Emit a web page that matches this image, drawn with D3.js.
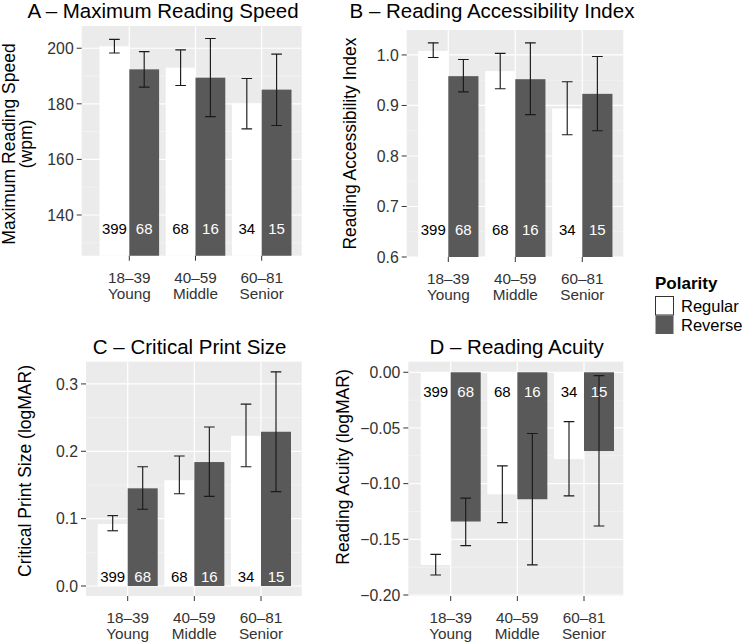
<!DOCTYPE html>
<html>
<head>
<meta charset="utf-8">
<script src="https://cdn.jsdelivr.net/npm/d3@7"></script>
<style>
  html, body { margin: 0; padding: 0; background: #ffffff; }
  svg { display: block; }
  text { font-family: "Liberation Sans", Arial, Helvetica, sans-serif; }
</style>
</head>
<body>
<script>
// ---------------- data ----------------
const ageRanges = ["18–39", "40–59", "60–81"];
const ageNames = ["Young", "Middle", "Senior"];
const polarity = ["Regular", "Reverse"];
const countsRegular = [399, 68, 34];
const countsReverse = [68, 16, 15];

// A – Maximum Reading Speed (wpm)
const mrsRegular = [200.7, 193.0, 180.1];
const mrsRegularLo = [198.3, 186.6, 171.0];
const mrsRegularHi = [203.2, 199.4, 189.1];
const mrsReverse = [192.4, 189.4, 185.1];
const mrsReverseLo = [186.0, 175.4, 172.2];
const mrsReverseHi = [198.8, 203.5, 197.9];
const mrsTicks = [140, 160, 180, 200];

// B – Reading Accessibility Index
const raiRegular = [1.008, 0.968, 0.894];
const raiRegularLo = [0.995, 0.933, 0.842];
const raiRegularHi = [1.024, 1.003, 0.947];
const raiReverse = [0.958, 0.952, 0.923];
const raiReverseLo = [0.927, 0.882, 0.850];
const raiReverseHi = [0.991, 1.024, 0.997];
const raiTicks = [0.6, 0.7, 0.8, 0.9, 1.0];

// C – Critical Print Size (logMAR)
const cpsRegular = [0.092, 0.157, 0.223];
const cpsRegularLo = [0.082, 0.137, 0.177];
const cpsRegularHi = [0.1045, 0.193, 0.270];
const cpsReverse = [0.145, 0.184, 0.229];
const cpsReverseLo = [0.114, 0.133, 0.140];
const cpsReverseHi = [0.177, 0.236, 0.318];
const cpsTicks = [0.0, 0.1, 0.2, 0.3];

// D – Reading Acuity (logMAR)
const raRegular = [-0.173, -0.1096, -0.078];
const raRegularLo = [-0.182, -0.135, -0.111];
const raRegularHi = [-0.1635, -0.084, -0.0443];
const raReverse = [-0.134, -0.114, -0.0707];
const raReverseLo = [-0.1557, -0.173, -0.138];
const raReverseHi = [-0.113, -0.055, -0.003];
const raTicks = [-0.20, -0.15, -0.10, -0.05, 0.00];

// ---------------- layout ----------------
const W = 746, H = 643;
const FONT_TITLE = 20.5, FONT_AXIS_TITLE = 17.5, FONT_TICK = 15.3, FONT_COUNT = 15;
const BG = "#EBEBEB", DARK = "#595959", TICKCOL = "#333333";

const panels = [
  { key: "A", title: "A – Maximum Reading Speed", ytitle: ["Maximum Reading Speed", "(wpm)"],
    reg: mrsRegular, regLo: mrsRegularLo, regHi: mrsRegularHi,
    rev: mrsReverse, revLo: mrsReverseLo, revHi: mrsReverseHi,
    ticks: mrsTicks, fmt: d3.format("d"), ydom: [125.35, 208.0], labelY: 135,
    box: { x0: 81.7, x1: 301.7, y0: 26, y1: 255.7 }, xt: [129.3, 261.7],
    titleX: 163, titleY: 18.3, ytX: [15.2, 31.8], ytY: 144 },
  { key: "B", title: "B – Reading Accessibility Index", ytitle: ["Reading Accessibility Index"],
    reg: raiRegular, regLo: raiRegularLo, regHi: raiRegularHi,
    rev: raiReverse, revLo: raiReverseLo, revHi: raiReverseHi,
    ticks: raiTicks, fmt: d3.format(".1f"), ydom: [0.6, 1.0494], labelY: 0.654,
    box: { x0: 406.7, x1: 623.3, y0: 30, y1: 257 }, xt: [448.3, 582.3],
    titleX: 492, titleY: 18.3, ytX: [355.5], ytY: 143.5 },
  { key: "C", title: "C – Critical Print Size", ytitle: ["Critical Print Size (logMAR)"],
    reg: cpsRegular, regLo: cpsRegularLo, regHi: cpsRegularHi,
    rev: cpsReverse, revLo: cpsReverseLo, revHi: cpsReverseHi,
    ticks: cpsTicks, fmt: d3.format(".1f"), ydom: [-0.01485, 0.333], labelY: 0.0146,
    box: { x0: 86, x1: 301.7, y0: 361.7, y1: 596 }, xt: [127.7, 261],
    titleX: 189.7, titleY: 354, ytX: [30.8], ytY: 471 },
  { key: "D", title: "D – Reading Acuity", ytitle: ["Reading Acuity (logMAR)"],
    reg: raRegular, regLo: raRegularLo, regHi: raRegularHi,
    rev: raReverse, revLo: raReverseLo, revHi: raReverseHi,
    ticks: raTicks, fmt: d3.format(".2f"), ydom: [-0.2009, 0.0095], labelY: -0.0174,
    box: { x0: 408.3, x1: 623.3, y0: 361.7, y1: 596 }, xt: [450.7, 584],
    titleX: 516.7, titleY: 354, ytX: [348.5], ytY: 467 }
];

const svg = d3.select("body").append("svg")
  .attr("width", W).attr("height", H)
  .attr("viewBox", `0 0 ${W} ${H}`);
svg.append("rect").attr("width", W).attr("height", H).attr("fill", "#ffffff");

const BAR_W = 0.45, CAP_HALF = 0.08;

panels.forEach(p => {
  const b = p.box;
  const x = d3.scaleLinear().domain([1, 3]).range(p.xt);
  const y = d3.scaleLinear().domain(p.ydom).range([b.y1, b.y0]);
  const g = svg.append("g").attr("class", "panel-" + p.key);

  const clipId = "clip-" + p.key;
  svg.append("defs").append("clipPath").attr("id", clipId)
    .append("rect").attr("x", b.x0).attr("y", b.y0)
    .attr("width", b.x1 - b.x0).attr("height", b.y1 - b.y0);

  // panel background
  g.append("rect").attr("x", b.x0).attr("y", b.y0)
    .attr("width", b.x1 - b.x0).attr("height", b.y1 - b.y0).attr("fill", BG);

  // minor gridlines
  const step = p.ticks[1] - p.ticks[0];
  const minor = [];
  for (let k = -1; k < p.ticks.length; k++) {
    const v = p.ticks[0] + (k + 0.5) * step;
    if (v > p.ydom[0] && v < p.ydom[1]) minor.push(v);
  }
  g.selectAll("line.minor").data(minor).enter().append("line")
    .attr("x1", b.x0).attr("x2", b.x1)
    .attr("y1", d => y(d)).attr("y2", d => y(d))
    .attr("stroke", "#F6F6F6").attr("stroke-width", 0.6);

  // major horizontal gridlines
  g.selectAll("line.major").data(p.ticks).enter().append("line")
    .attr("x1", b.x0).attr("x2", b.x1)
    .attr("y1", d => y(d)).attr("y2", d => y(d))
    .attr("stroke", "#ffffff").attr("stroke-width", 1.2);
  // major vertical gridlines
  g.selectAll("line.vmajor").data([1, 2, 3]).enter().append("line")
    .attr("x1", d => x(d)).attr("x2", d => x(d))
    .attr("y1", b.y0).attr("y2", b.y1)
    .attr("stroke", "#ffffff").attr("stroke-width", 1.2);

  // bars
  const rows = [];
  ageRanges.forEach((a, i) => {
    rows.push({ c: i + 1, side: -1, v: p.reg[i], lo: p.regLo[i], hi: p.regHi[i], n: countsRegular[i], fill: "#ffffff", tc: "#000000" });
    rows.push({ c: i + 1, side: 1, v: p.rev[i], lo: p.revLo[i], hi: p.revHi[i], n: countsReverse[i], fill: DARK, tc: "#ffffff" });
  });
  const cg = g.append("g").attr("clip-path", `url(#${clipId})`);
  cg.selectAll("rect.bar").data(rows).enter().append("rect")
    .attr("x", d => d.side < 0 ? x(d.c - BAR_W) : x(d.c))
    .attr("width", d => x(1 + BAR_W) - x(1))
    .attr("y", d => Math.min(y(0), y(d.v)))
    .attr("height", d => Math.abs(y(0) - y(d.v)))
    .attr("fill", d => d.fill);

  // error bars
  const center = d => x(d.c + d.side * BAR_W / 2);
  const eg = cg.append("g").attr("stroke", "#1a1a1a").attr("stroke-width", 1.15).attr("fill", "none");
  rows.forEach(d => {
    const cx = center(d), hw = x(1 + CAP_HALF) - x(1);
    eg.append("line").attr("x1", cx).attr("x2", cx).attr("y1", y(d.lo)).attr("y2", y(d.hi));
    eg.append("line").attr("x1", cx - hw).attr("x2", cx + hw).attr("y1", y(d.lo)).attr("y2", y(d.lo));
    eg.append("line").attr("x1", cx - hw).attr("x2", cx + hw).attr("y1", y(d.hi)).attr("y2", y(d.hi));
  });

  // count labels
  cg.selectAll("text.count").data(rows).enter().append("text")
    .attr("x", d => center(d)).attr("y", y(p.labelY)).attr("dy", "0.36em")
    .attr("text-anchor", "middle").attr("font-size", FONT_COUNT)
    .attr("fill", d => d.tc).text(d => d.n);

  // y axis ticks and labels
  const ya = g.append("g");
  p.ticks.forEach(t => {
    ya.append("line").attr("x1", b.x0 - 5).attr("x2", b.x0).attr("y1", y(t)).attr("y2", y(t))
      .attr("stroke", TICKCOL).attr("stroke-width", 1);
    ya.append("text").attr("x", b.x0 - 8).attr("y", y(t)).attr("dy", "0.36em")
      .attr("text-anchor", "end").attr("font-size", 15.8).attr("fill", TICKCOL)
      .text(p.fmt(t));
  });

  // x axis ticks and labels
  const xa = g.append("g");
  ageRanges.forEach((a, i) => {
    const cx = x(i + 1);
    xa.append("line").attr("x1", cx).attr("x2", cx).attr("y1", b.y1).attr("y2", b.y1 + 5)
      .attr("stroke", TICKCOL).attr("stroke-width", 1);
    xa.append("text").attr("x", cx).attr("y", b.y1 + 26.8)
      .attr("text-anchor", "middle").attr("font-size", FONT_TICK).attr("fill", TICKCOL).text(a);
    xa.append("text").attr("x", cx).attr("y", b.y1 + 43.2)
      .attr("text-anchor", "middle").attr("font-size", FONT_TICK).attr("fill", TICKCOL).text(ageNames[i]);
  });

  // panel title
  g.append("text").attr("x", p.titleX).attr("y", p.titleY)
    .attr("text-anchor", "middle").attr("font-size", FONT_TITLE).attr("fill", "#000")
    .text(p.title);

  // y axis title
  p.ytitle.forEach((line, k) => {
    g.append("text")
      .attr("transform", `translate(${p.ytX[k]},${p.ytY}) rotate(-90)`)
      .attr("text-anchor", "middle").attr("font-size", FONT_AXIS_TITLE).attr("fill", "#000")
      .text(line);
  });
});

// ---------------- legend ----------------
const lg = svg.append("g").attr("class", "legend");
lg.append("text").attr("x", 655).attr("y", 288.5)
  .attr("font-size", 17).attr("font-weight", "bold").attr("fill", "#000").text("Polarity");
const keyFills = ["#ffffff", DARK];
polarity.forEach((name, i) => {
  const ky = 296.5 + i * 19;
  lg.append("rect").attr("x", 655.5).attr("y", ky).attr("width", 18).attr("height", 18.5)
    .attr("fill", keyFills[i])
    .attr("stroke", i === 0 ? "#333333" : "none").attr("stroke-width", 1);
  lg.append("text").attr("x", 681).attr("y", ky + 9.5).attr("dy", "0.36em")
    .attr("font-size", 16.5).attr("fill", "#000").text(name);
});
</script>
</body>
</html>
